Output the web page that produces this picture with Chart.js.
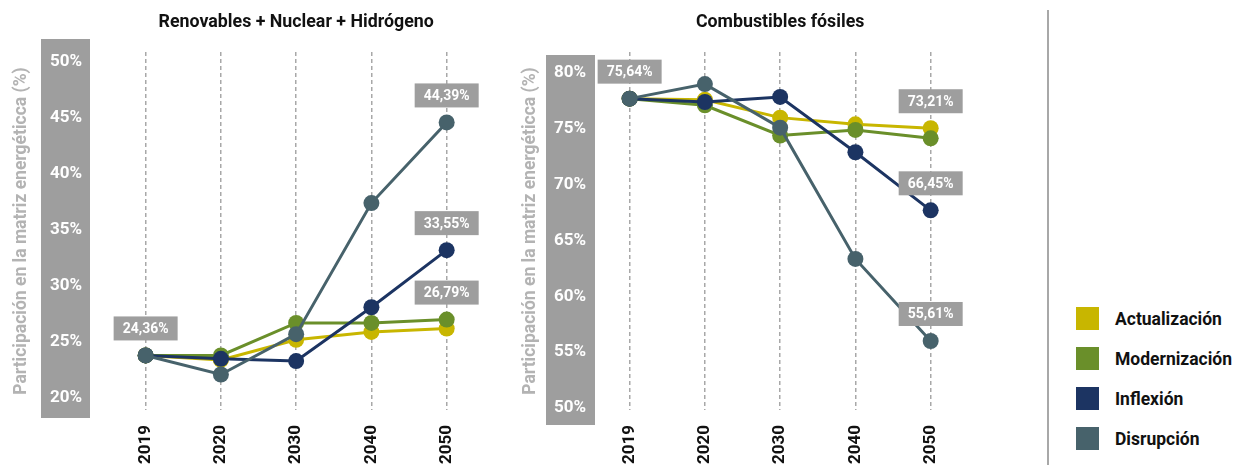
<!DOCTYPE html>
<html><head><meta charset="utf-8">
<script src="https://cdn.jsdelivr.net/npm/chart.js@4/dist/chart.umd.min.js"></script>
<style>
html,body{margin:0;padding:0;background:#fff;width:1235px;height:465px;overflow:hidden;font-family:Roboto,sans-serif;}
#c1{position:absolute;left:0;top:0;}
#c2{position:absolute;left:500px;top:0;}
#divider{position:absolute;left:1046.5px;top:10px;width:2px;height:455px;background:#a8a8a8;}
#legend{position:absolute;left:1076px;top:307px;}
.li{display:flex;align-items:center;height:23px;margin-bottom:17px;}
.sw{width:23px;height:23px;margin-right:16px;flex:none;}
.lt{font:bold 17.5px Roboto,sans-serif;color:#111;white-space:nowrap;}
</style></head><body>
<canvas id="c1" width="500" height="465"></canvas>
<canvas id="c2" width="540" height="465"></canvas>
<div id="divider"></div>
<div id="legend"></div>
<script>
// ---- data ----
const years = ['2019', '2020', '2030', '2040', '2050'];
const seriesNames = ['Actualización', 'Modernización', 'Inflexión', 'Disrupción'];
const seriesColors = ['#c8b600', '#6a8f2a', '#1c3462', '#47626b'];

// Renovables + Nuclear + Hidrógeno (% participación)
const renActualizacion = [23.8, 23.4, 25.2, 25.9, 26.2];
const renModernizacion = [23.8, 23.8, 26.7, 26.7, 27.0];
const renInflexion     = [23.8, 23.5, 23.3, 28.1, 33.2];
const renDisrupcion    = [23.8, 22.1, 25.7, 37.4, 44.6];
const renTicks = [20, 25, 30, 35, 40, 45, 50];
const renCallouts = [
  {series: 3, index: 0, text: '24,36%'},
  {series: 3, index: 4, text: '44,39%'},
  {series: 2, index: 4, text: '33,55%'},
  {series: 1, index: 4, text: '26,79%'}
];

// Combustibles fósiles (% participación)
const fosActualizacion = [77.7, 77.6, 76.0, 75.4, 75.05];
const fosModernizacion = [77.7, 77.1, 74.4, 74.9, 74.15];
const fosInflexion     = [77.7, 77.4, 77.85, 72.9, 67.7];
const fosDisrupcion    = [77.7, 79.0, 75.1, 63.35, 56.0];
const fosTicks = [50, 55, 60, 65, 70, 75, 80];
const fosCallouts = [
  {series: 3, index: 0, text: '75,64%'},
  {series: 0, index: 4, text: '73,21%'},
  {series: 2, index: 4, text: '66,45%'},
  {series: 3, index: 4, text: '55,61%'}
];

const yTitle = 'Participación en la matriz energéticca (%)';
const FONT = 'Roboto, sans-serif';

// ---- plugins ----
const bandPlugin = {
  id: 'band',
  beforeDraw(chart, args, o) {
    const ctx = chart.ctx;
    ctx.save();
    ctx.fillStyle = o.color;
    ctx.fillRect(o.left, o.top, o.right - o.left, o.bottom - o.top);
    ctx.restore();
  }
};
const calloutPlugin = {
  id: 'callouts',
  afterDatasetsDraw(chart, args, o) {
    const ctx = chart.ctx;
    ctx.save();
    (o.items || []).forEach(c => {
      const el = chart.getDatasetMeta(c.series).data[c.index];
      const cx = el.x, cy = el.y - o.lift;
      ctx.fillStyle = o.color;
      ctx.fillRect(cx - o.w / 2, cy - o.h / 2, o.w, o.h);
      ctx.fillStyle = '#fff';
      ctx.font = 'bold 14px ' + FONT;
      ctx.textAlign = 'center';
      ctx.textBaseline = 'middle';
      ctx.fillText(c.text, cx, cy + 1);
    });
    ctx.restore();
  }
};

function makeChart(id, title, dataArrays, ticks, yMin, yMax, geo, callouts) {
  const order = [3, 2, 1, 0];
  const datasets = dataArrays.map((d, i) => ({
    label: seriesNames[i],
    data: d,
    borderColor: seriesColors[i],
    backgroundColor: seriesColors[i],
    pointBackgroundColor: seriesColors[i],
    pointBorderWidth: 0,
    pointRadius: 8,
    pointHoverRadius: 8,
    borderWidth: 3,
    tension: 0,
    order: order[i],
    clip: false
  }));
  return new Chart(document.getElementById(id), {
    type: 'line',
    data: {labels: years, datasets},
    options: {
      responsive: false,
      animation: false,
      devicePixelRatio: 1,
      layout: {padding: {left: 0, right: geo.padRight, top: 0, bottom: 0}},
      scales: {
        x: {
          type: 'category',
          offset: true,
          grid: {display: true, color: '#a8a8a8', lineWidth: 1.5, drawTicks: false, offset: false},
          border: {display: false, dash: [4, 3]},
          ticks: {color: '#111', font: {family: FONT, size: 17, weight: 'bold'},
                  minRotation: 90, maxRotation: 90, padding: 15, autoSkip: false},
          afterFit: s => { s.height = 55; }
        },
        y: {
          type: 'linear',
          min: yMin, max: yMax,
          afterBuildTicks: s => { s.ticks = ticks.map(v => ({value: v})); },
          ticks: {color: '#fff', font: {family: FONT, size: 17, weight: 'bold'},
                  padding: geo.tickPad, callback: v => v + '%'},
          grid: {display: false, drawTicks: false},
          border: {display: false},
          title: {display: true, text: yTitle, color: '#b3b3b3',
                  font: {family: FONT, size: 17.5, weight: 'bold', lineHeight: 1.2},
                  padding: {top: geo.titlePad, bottom: 0}},
          afterFit: s => { s.width = geo.yWidth; }
        }
      },
      plugins: {
        legend: {display: false},
        tooltip: {enabled: false},
        title: {display: true, text: title, color: '#111', fullSize: false,
                font: {family: FONT, size: 17.8, weight: 'bold', lineHeight: 1.2},
                padding: {top: 12.3, bottom: 18.3}},
        band: {color: '#9e9e9e', left: geo.band[0], right: geo.band[1], top: geo.band[2], bottom: geo.band[3]},
        callouts: {items: callouts, color: '#9e9e9e', w: 64, h: 24, lift: 27}
      }
    },
    plugins: [bandPlugin, calloutPlugin]
  });
}

makeChart('c1', 'Renovables + Nuclear + Hidrógeno',
  [renActualizacion, renModernizacion, renInflexion, renDisrupcion],
  renTicks, 18.93, 50.89,
  {padRight: 15.7, yWidth: 108, tickPad: 26, titlePad: 11.5, band: [41, 90, 39, 418]},
  renCallouts);

makeChart('c2', 'Combustibles fósiles',
  [fosActualizacion, fosModernizacion, fosInflexion, fosDisrupcion],
  fosTicks, 49.82, 81.88,
  {padRight: 71.7, yWidth: 92, tickPad: 6, titlePad: 20.5, band: [46, 95, 55, 425]},
  fosCallouts);

// ---- legend ----
const lg = document.getElementById('legend');
seriesNames.forEach((n, i) => {
  const row = document.createElement('div');
  row.className = 'li';
  row.innerHTML = '<div class="sw" style="background:' + seriesColors[i] + '"></div><span class="lt">' + n + '</span>';
  lg.appendChild(row);
});
</script>
</body></html>
